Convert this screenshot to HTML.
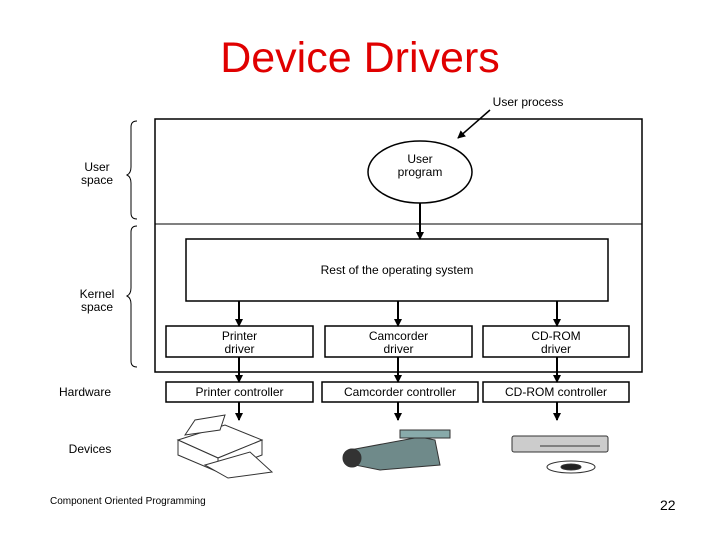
<html><head><style>
body{margin:0;width:720px;height:540px;background:#fff;position:relative;font-family:"Liberation Sans",sans-serif;overflow:hidden}
.t{position:absolute;font-size:12px;color:#000;text-align:center;line-height:13px}
</style></head><body>
<div style="position:absolute;left:0;width:720px;top:34px;text-align:center;color:#e00000;font-size:43px">Device Drivers</div>
<svg width="720" height="540" style="position:absolute;left:0;top:0">
<defs><marker id="a" markerWidth="8" markerHeight="8" refX="7" refY="4" orient="auto" markerUnits="userSpaceOnUse"><path d="M0,0L8,4L0,8z" fill="#000"/></marker></defs>
<g fill="none" stroke="#000" stroke-width="1.5">
<rect x="155" y="119" width="487" height="253"/>
<line x1="155" y1="224" x2="642" y2="224" stroke-width="1"/>
<ellipse cx="420" cy="172" rx="52" ry="31"/>
<rect x="186" y="239" width="422" height="62"/>
<rect x="166" y="326" width="147" height="31"/>
<rect x="325" y="326" width="147" height="31"/>
<rect x="483" y="326" width="146" height="31"/>
<rect x="166" y="382" width="147" height="20"/>
<rect x="322" y="382" width="156" height="20"/>
<rect x="483" y="382" width="146" height="20"/>
<path d="M137,121 q-6,0 -6,6 v40 q0,6 -4,8 q4,2 4,8 v30 q0,6 6,6" stroke-width="1"/>
<path d="M137,226 q-6,0 -6,6 v56 q0,6 -4,8 q4,2 4,8 v57 q0,6 6,6" stroke-width="1"/>
</g>
<g stroke="#000" stroke-width="2" marker-end="url(#a)">
<line x1="490" y1="110" x2="458" y2="138" stroke-width="1.5"/>
<line x1="420" y1="203" x2="420" y2="239"/>
<line x1="239" y1="301" x2="239" y2="326"/><line x1="398" y1="301" x2="398" y2="326"/><line x1="557" y1="301" x2="557" y2="326"/>
<line x1="239" y1="357" x2="239" y2="382"/><line x1="398" y1="357" x2="398" y2="382"/><line x1="557" y1="357" x2="557" y2="382"/>
<line x1="239" y1="402" x2="239" y2="420"/><line x1="398" y1="402" x2="398" y2="420"/><line x1="557" y1="402" x2="557" y2="420"/>
</g>
<g stroke="#333" fill="#fff" stroke-width="1">
<polygon points="178,440 225,425 262,440 218,458"/>
<polygon points="178,440 178,455 218,472 218,458"/>
<polygon points="218,458 262,440 262,455 218,472"/>
<polygon points="205,465 250,452 272,472 228,478"/>
<polygon points="185,435 195,420 225,415 220,430"/>
</g>
<g fill="#6f8a8a" stroke="#333" stroke-width="1">
<polygon points="350,450 420,437 435,440 440,465 380,470 355,465"/>
<circle cx="352" cy="458" r="9" fill="#333"/>
<rect x="400" y="430" width="50" height="8" fill="#8aa"/>
</g>
<g stroke="#333" stroke-width="1">
<rect x="512" y="436" width="96" height="16" rx="2" fill="#ccc"/>
<line x1="540" y1="446" x2="600" y2="446"/>
<ellipse cx="571" cy="467" rx="24" ry="6" fill="#fff"/>
<ellipse cx="571" cy="467" rx="10" ry="3" fill="#222"/>
</g>
</svg>
<div class="t" style="left:478px;top:96px;width:100px">User process</div>
<div class="t" style="left:380px;top:153px;width:80px">User<br>program</div>
<div class="t" style="left:186px;top:264px;width:422px">Rest of the operating system</div>
<div class="t" style="left:166px;top:330px;width:147px">Printer<br>driver</div>
<div class="t" style="left:325px;top:330px;width:147px">Camcorder<br>driver</div>
<div class="t" style="left:483px;top:330px;width:146px">CD-ROM<br>driver</div>
<div class="t" style="left:166px;top:386px;width:147px">Printer controller</div>
<div class="t" style="left:320px;top:386px;width:160px">Camcorder controller</div>
<div class="t" style="left:483px;top:386px;width:146px">CD-ROM controller</div>
<div class="t" style="left:64px;top:161px;width:66px">User<br>space</div>
<div class="t" style="left:64px;top:288px;width:66px">Kernel<br>space</div>
<div class="t" style="left:40px;top:386px;width:90px">Hardware</div>
<div class="t" style="left:50px;top:443px;width:80px">Devices</div>
<div style="position:absolute;left:50px;top:496px;font-size:10px">Component Oriented Programming</div>
<div style="position:absolute;left:660px;top:497px;font-size:14px">22</div>
</body></html>
